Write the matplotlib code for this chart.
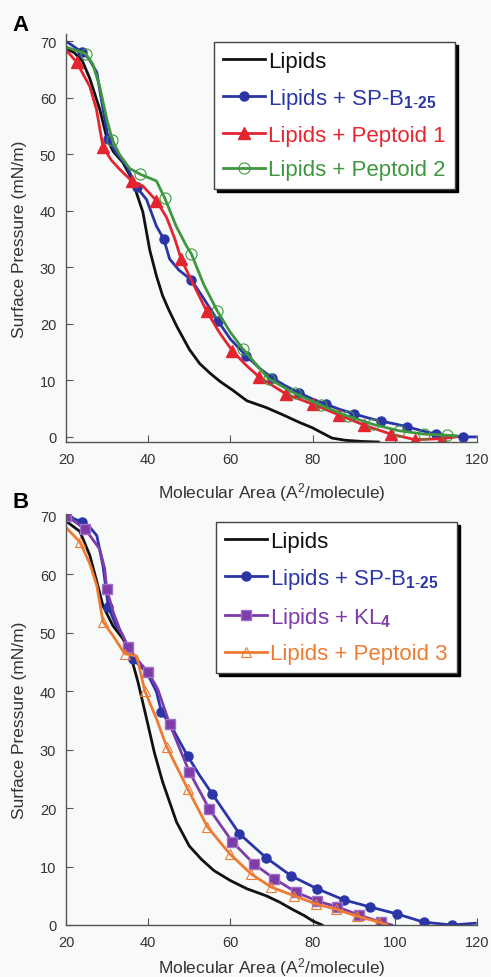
import matplotlib
matplotlib.use("Agg")
import matplotlib.pyplot as plt

plt.rcParams.update({
    "font.family": ["Liberation Sans", "DejaVu Sans"],
    "mathtext.fontset": "custom",
    "mathtext.rm": "Liberation Sans",
    "mathtext.it": "Liberation Sans:italic",
    "mathtext.bf": "Liberation Sans:bold",
    "axes.edgecolor": "#555555",
    "xtick.color": "#555555",
    "ytick.color": "#555555",
    "xtick.labelcolor": "#333333",
    "ytick.labelcolor": "#333333",
})

BG = "#f8fafa"

# ---------------- panel A data ----------------
lipA_x = [20, 22, 24, 25.8, 28.2, 30, 31.5, 33.8, 36, 37, 38.7, 40.4, 42, 43.5, 45, 47, 50,
          52.5, 55, 57.5, 60.5, 64, 68.7, 72.5, 76.7, 80, 84.7, 88, 92, 96]
lipA_y = [68.7, 68, 66.5, 63.4, 58, 52.7, 50.5, 48.6, 45.7, 43.5, 39.8, 33, 28.5, 25, 22.5, 19.5, 15.5,
          13, 11.3, 9.8, 8.3, 6.4, 5.2, 4.0, 2.6, 1.6, -0.2, -0.6, -0.8, -0.9]

spbA_x = [20, 21.5, 23.8, 25.5, 27.5, 29, 30.3, 32, 34.7, 37.2, 39.6, 42, 43.8, 45.2, 47.5, 50.5,
          53.5, 57, 60, 63.8, 67, 70.2, 73.5, 76.7, 80, 83.2, 86.5, 90, 93.3, 96.6, 100, 103,
          106.5, 110, 113, 116.5, 119.6]
spbA_y = [70, 69.3, 68.1, 67, 64.5, 58, 52.7, 50.5, 48, 44.2, 42, 37.3, 35, 31.5, 29.5, 27.8,
          24.5, 20.5, 17.3, 14.4, 12.2, 10.4, 9, 7.8, 6.7, 5.8, 4.9, 4.1, 3.4, 2.8, 2.3, 1.8,
          1.1, 0.5, 0.2, 0, 0]
spbA_marks = [2, 6, 9, 12, 15, 17, 19, 21, 23, 25, 27, 29, 31, 33, 35]

pep1_x = [20, 22.6, 25.8, 27.4, 29, 31, 33, 36, 38.7, 42, 44.5, 46.5, 48, 51, 54.2, 57.3, 60.5,
          63.8, 67, 73.5, 80, 86.4, 92.5, 99, 105, 111.5, 114.8]
pep1_y = [68.5, 66.3, 62, 58, 51.3, 49, 47.4, 45.3, 44.4, 41.8, 38.8, 35, 31.5, 27, 22.3, 18.5, 15.2,
          12.7, 10.6, 7.6, 5.8, 3.9, 2.1, 0.5, -0.5, -0.3, 0]
pep1_marks = [1, 4, 7, 9, 12, 14, 16, 18, 19, 20, 21, 22, 23, 24, 25]

pep2_x = [20, 24.8, 26.5, 28.2, 30, 31.3, 33, 35.5, 38, 42, 44, 46.8, 49.3, 50.5, 53.5, 56.8, 60,
          63, 69.3, 75.7, 82, 88.5, 94.8, 101, 107, 112.6, 115]
pep2_y = [69, 67.8, 66, 62, 56, 52.5, 50, 47.5, 46.5, 45.3, 42.3, 37.3, 33.8, 32.4, 27, 22.3, 18.5,
          15.6, 10.3, 7.7, 5.6, 3.7, 2.2, 1.1, 0.5, 0.3, 0.2]
pep2_marks = [1, 5, 8, 10, 13, 15, 17, 18, 19, 20, 21, 22, 23, 24, 25]

# ---------------- panel B data ----------------
lipB_x = [20, 23.4, 25.8, 27.5, 29, 31.4, 33.8, 35.5, 37.5, 39.6, 41.5, 43.5, 46.9, 50, 53, 56,
          60, 64, 68.7, 72, 75, 78, 80, 82.3]
lipB_y = [69.1, 67.3, 63.2, 58.7, 54.6, 51.2, 49, 46.7, 41.6, 35.3, 29.5, 24.5, 17.6, 13.5, 11.2, 9.3,
          7.6, 6.2, 5, 3.9, 2.7, 1.6, 0.7, 0]

spbB_x = [20, 23.8, 25.5, 27.5, 29, 30.3, 32, 33.8, 36.2, 39.6, 42, 43.2, 46, 49.6, 52.5, 55.6,
          59, 62.2, 68.7, 74.8, 81.1, 87.6, 93.9, 100.5, 107, 113.8, 119.6]
spbB_y = [70, 69, 68.3, 66.6, 61.4, 54.4, 51.5, 49.5, 45.5, 43.3, 39.9, 36.5, 33.5, 28.9, 25.6, 22.4,
          18.9, 15.6, 11.5, 8.4, 6.2, 4.3, 3.1, 1.9, 0.5, 0, 0.3]
spbB_marks = [1, 5, 8, 11, 13, 15, 17, 18, 19, 20, 21, 22, 23, 24, 25]

kl4_x = [20, 24.6, 28.2, 29.4, 29.9, 31.5, 33, 35.1, 37.2, 39.9, 42.3, 45.2, 50, 54.9, 60.5, 65.8,
         70.7, 76, 81.1, 86, 91.3, 96.6, 99.3]
kl4_y = [70, 67.8, 64.3, 61, 57.5, 53.5, 50.7, 47.6, 45.5, 43.3, 40.4, 34.4, 26.2, 19.8, 14.2, 10.4,
         7.9, 5.6, 4.1, 3.1, 1.7, 0.5, 0]
kl4_marks = [0, 1, 4, 7, 9, 11, 12, 13, 14, 15, 16, 17, 18, 19, 20, 21]

pep3_x = [20, 23.4, 25.8, 27.5, 29, 31.4, 34.3, 37.2, 39.2, 42, 44.5, 49.6, 54.4, 59.8, 65.1, 69.9,
          75.5, 80.8, 85.7, 90.8, 96.1, 98]
pep3_y = [68, 65.5, 61.8, 58, 51.9, 49.5, 46.4, 46, 40, 35.3, 30.5, 23.3, 16.8, 12.2, 8.7, 6.5,
          5, 3.6, 2.7, 1.5, 0.5, 0.1]
pep3_marks = [1, 4, 6, 8, 10, 11, 12, 13, 14, 15, 16, 17, 18, 19, 20]

xticks = [20, 40, 60, 80, 100, 120]
yticks = [0, 10, 20, 30, 40, 50, 60, 70]

BLACK = "#111111"
BLUE = "#2b36a6"
RED = "#e42530"
GREEN = "#3f973f"
PURPLE = "#7d3ca8"
ORANGE = "#ee7b33"

fig = plt.figure(figsize=(4.91, 9.78), dpi=100, facecolor=BG)


def style_axes(ax, ylim):
    ax.set_facecolor(BG)
    ax.set_xlim(20, 120)
    ax.set_ylim(*ylim)
    ax.set_xticks(xticks)
    ax.set_yticks(yticks)
    for s in ["top", "right"]:
        ax.spines[s].set_visible(False)
    for s in ["left", "bottom"]:
        ax.spines[s].set_linewidth(1.0)
    ax.tick_params(direction="in", length=5, width=0.8, labelsize=10.5)
    ax.tick_params(axis="x", pad=7)
    ax.tick_params(axis="y", pad=7)
    ax.set_xlabel("Molecular Area (A$^2$/molecule)", fontsize=12.5, color="#333333")
    ax.set_ylabel("Surface Pressure (mN/m)", fontsize=12.5, color="#333333")
    ax.yaxis.set_label_coords(-0.095, 0.5)


def add_legend(ax, anchor):
    leg = ax.legend(loc="upper right", bbox_to_anchor=anchor, fontsize=16,
                    labelcolor="linecolor", handlelength=1.9, handletextpad=0.15,
                    borderpad=0.4, labelspacing=0.62, borderaxespad=0,
                    fancybox=False, framealpha=1, facecolor="white", edgecolor="#444444",
                    shadow={"color": "black", "alpha": 1})
    leg.get_frame().set_linewidth(1.0)
    return leg


# ---------------- panel A ----------------
axA = fig.add_axes([66 / 491, 1 - 443 / 978, 411 / 491, 408 / 978])
axA.plot(lipA_x, lipA_y, color=BLACK, lw=2.0, label="Lipids")
axA.plot(spbA_x, spbA_y, color=BLUE, lw=2.0, marker="o", ms=6.5, markevery=spbA_marks,
         label="Lipids + SP-B$_{\\mathbf{1\\text{-}25}}$")
axA.plot(pep1_x, pep1_y, color=RED, lw=2.0, marker="^", ms=8, markevery=pep1_marks,
         label="Lipids + Peptoid 1")
axA.plot(pep2_x, pep2_y, color=GREEN, lw=2.0, marker="o", ms=8, mfc="none", mew=0.8,
         markevery=pep2_marks, label="Lipids + Peptoid 2")
style_axes(axA, (-0.9, 71.3))
axA.xaxis.set_label_coords(0.5, -0.093)
add_legend(axA, (0.946, 0.98))

# ---------------- panel B ----------------
axB = fig.add_axes([66 / 491, 1 - 926 / 978, 411 / 491, 411 / 978])
axB.plot(lipB_x, lipB_y, color=BLACK, lw=2.0, label="Lipids")
axB.plot(spbB_x, spbB_y, color=BLUE, lw=2.0, marker="o", ms=6.5, markevery=spbB_marks,
         label="Lipids + SP-B$_{\\mathbf{1\\text{-}25}}$")
axB.plot(kl4_x, kl4_y, color=PURPLE, lw=2.0, marker="s", ms=7, mec="#a070c8", mfc=PURPLE,
         markevery=kl4_marks, label="Lipids + KL$_{\\mathbf{4}}$")
axB.plot(pep3_x, pep3_y, color=ORANGE, lw=2.0, marker="^", ms=7.5, mfc="none", mew=0.8,
         markevery=pep3_marks, label="Lipids + Peptoid 3")
style_axes(axB, (0, 70.3))
axB.xaxis.set_label_coords(0.5, -0.074)
add_legend(axB, (0.951, 0.98))

fig.text(12 / 491, 1 - 31 / 978, "A", fontsize=16, fontweight="bold", va="baseline")
fig.text(12 / 491, 1 - 508 / 978, "B", fontsize=16, fontweight="bold", va="baseline")

fig.savefig("out.png", dpi=100, facecolor=BG)
